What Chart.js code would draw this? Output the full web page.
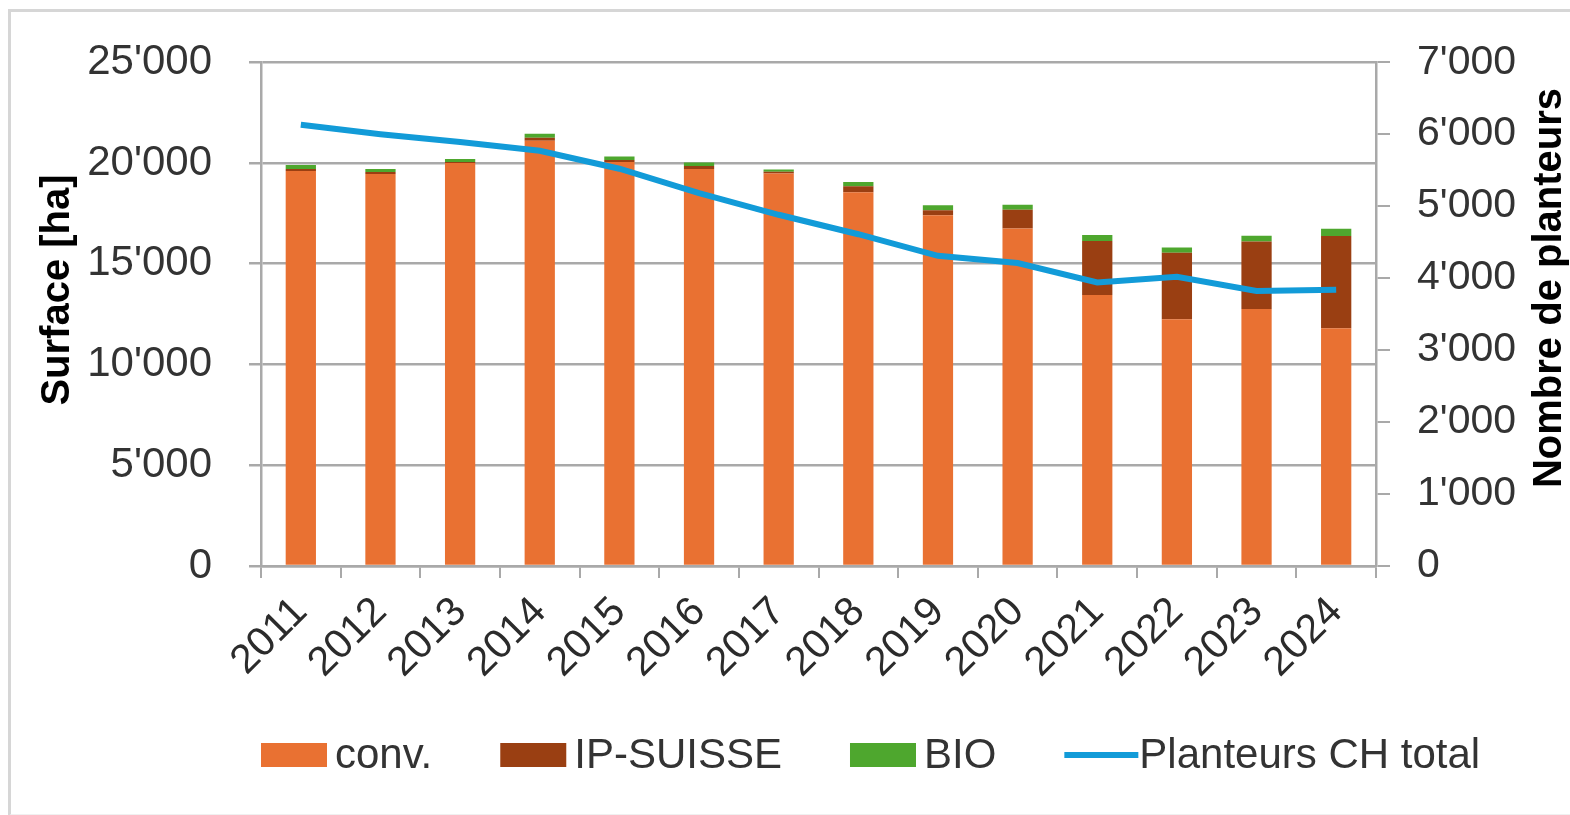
<!DOCTYPE html>
<html>
<head>
<meta charset="utf-8">
<script src="https://cdn.jsdelivr.net/npm/chart.js@4.4.1/dist/chart.umd.min.js"></script>
<style>
  body { margin: 0; background: #fff; }
  #wrap { position: relative; width: 1570px; height: 815px; overflow: hidden; }
  #frame { position: absolute; left: 8px; top: 9px; width: 1600px; height: 802px;
           border-left: 3px solid #d6d6d6; border-top: 3px solid #d6d6d6; border-bottom: 2px solid #f0f0f0; }
  canvas { position: absolute; left: 0; top: 0; }
</style>
</head>
<body>
<div id="wrap">
  <div id="frame"></div>
  <canvas id="chart" width="1570" height="815"></canvas>
</div>
<script>
// Data
const years = ['2011', '2012', '2013', '2014', '2015', '2016', '2017', '2018', '2019', '2020', '2021', '2022', '2023', '2024'];
const convArea = [19600, 19450, 20000, 21100, 20050, 19700, 19480, 18550, 17400, 16750, 13450, 12250, 12750, 11800];
const ipSuisseArea = [100, 100, 50, 150, 100, 150, 80, 300, 250, 930, 2680, 3300, 3350, 4570];
const bioArea = [200, 150, 150, 200, 170, 170, 120, 200, 250, 250, 290, 250, 290, 370];
const planteurs = [6130, 6000, 5890, 5770, 5520, 5180, 4880, 4610, 4310, 4210, 3940, 4020, 3820, 3840];

const FONT = '"Liberation Sans", Arial, sans-serif';
const AXIS_GREY = '#a9a9a9';

// 25000 -> 25'000
const swissFormat = (v) => String(v).replace(/\B(?=(\d{3})+(?!\d))/g, "'");

// Legend and axis titles drawn by hand to place them like the original
const customDecor = {
  id: 'customDecor',
  afterDraw(chart) {
    const ctx = chart.ctx;
    ctx.save();

    // axis titles
    ctx.fillStyle = '#000';
    ctx.font = 'bold 40px ' + FONT;
    ctx.textAlign = 'center';
    ctx.textBaseline = 'middle';
    [['Surface [ha]', 58, 290], ['Nombre de planteurs', 1550, 288]].forEach(([txt, x, y]) => {
      ctx.save();
      ctx.translate(x, y);
      ctx.rotate(-Math.PI / 2);
      ctx.fillText(txt, 0, 0);
      ctx.restore();
    });

    // legend
    ctx.font = '42px ' + FONT;
    ctx.textAlign = 'left';
    let x = 261;
    const yMid = 755;
    chart.data.datasets.forEach((ds) => {
      if (ds.type === 'line') {
        ctx.strokeStyle = ds.borderColor;
        ctx.lineWidth = 6;
        ctx.beginPath();
        ctx.moveTo(x, yMid);
        ctx.lineTo(x + 74, yMid);
        ctx.stroke();
        x += 75;
      } else {
        ctx.fillStyle = ds.backgroundColor;
        ctx.fillRect(x, yMid - 12, 66, 24);
        x += 74;
      }
      ctx.fillStyle = '#333';
      ctx.fillText(ds.label, x, yMid + 1);
      x += ctx.measureText(ds.label).width + 68;
    });
    ctx.restore();
  }
};

const config = {
  type: 'bar',
  data: {
    labels: years,
    datasets: [
      {
        label: 'conv.',
        data: convArea,
        backgroundColor: '#e97132',
        stack: 'surface',
        order: 1
      },
      {
        label: 'IP-SUISSE',
        data: ipSuisseArea,
        backgroundColor: '#9a3f12',
        stack: 'surface',
        order: 1
      },
      {
        label: 'BIO',
        data: bioArea,
        backgroundColor: '#4ea72e',
        stack: 'surface',
        order: 1
      },
      {
        type: 'line',
        label: 'Planteurs CH total',
        data: planteurs,
        yAxisID: 'y1',
        borderColor: '#129bd8',
        borderWidth: 6,
        pointRadius: 0,
        tension: 0,
        order: 0
      }
    ]
  },
  options: {
    responsive: false,
    animation: false,
    layout: { padding: { top: 58, left: 0, right: 0, bottom: 0 } },
    datasets: {
      bar: { categoryPercentage: 1, barPercentage: 0.38 }
    },
    plugins: {
      legend: { display: false },
      tooltip: { enabled: false }
    },
    scales: {
      x: {
        stacked: true,
        grid: { offset: true, drawOnChartArea: false, color: AXIS_GREY, lineWidth: 2, tickLength: 12 },
        border: { color: AXIS_GREY, width: 2.5 },
        ticks: {
          color: '#2b2b2b',
          font: { family: FONT, size: 41 },
          minRotation: 45,
          maxRotation: 45,
          padding: 10
        },
        afterFit: (scale) => { scale.height = 249; }
      },
      y: {
        stacked: true,
        position: 'left',
        min: 0,
        max: 25000,
        grid: { color: AXIS_GREY, lineWidth: 2.5, tickLength: 12 },
        border: { color: AXIS_GREY, width: 2.5 },
        ticks: {
          stepSize: 5000,
          padding: 37,
          color: '#333',
          font: { family: FONT, size: 42 },
          callback: (v) => swissFormat(v)
        },
        afterFit: (scale) => { scale.width = 261; }
      },
      y1: {
        position: 'right',
        min: 0,
        max: 7000,
        grid: { drawOnChartArea: false, color: AXIS_GREY, lineWidth: 2, tickLength: 14 },
        border: { color: AXIS_GREY, width: 2.5 },
        ticks: {
          stepSize: 1000,
          padding: 27,
          color: '#333',
          font: { family: FONT, size: 41 },
          callback: (v) => swissFormat(v)
        },
        afterFit: (scale) => { scale.width = 194; }
      }
    }
  },
  plugins: [customDecor]
};

new Chart(document.getElementById('chart'), config);
</script>
</body>
</html>
